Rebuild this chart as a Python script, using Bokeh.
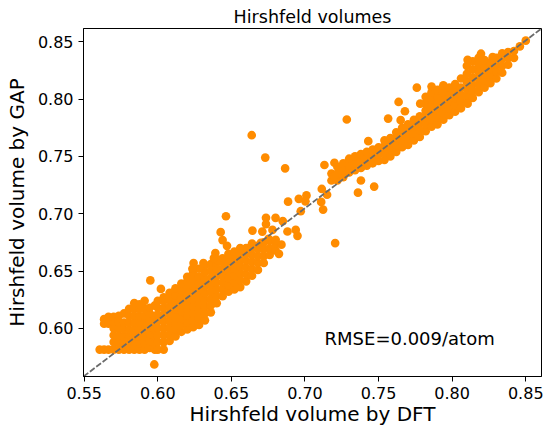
from bokeh.plotting import figure
from bokeh.models import Range1d, Label, FixedTicker, NumeralTickFormatter
from bokeh.embed import file_html
from bokeh.resources import INLINE

# ---------------- data ----------------
TITLE = "Hirshfeld volumes"
X_LABEL = "Hirshfeld volume by DFT"
Y_LABEL = "Hirshfeld volume by GAP"
RMSE_TEXT = "RMSE=0.009/atom"
X_TICKS = [0.55, 0.60, 0.65, 0.70, 0.75, 0.80, 0.85]
Y_TICKS = [0.60, 0.65, 0.70, 0.75, 0.80, 0.85]

# dense band, low end: (DFT value, GAP values read at that DFT value)
band_low = [
    (0.5605, [0.5815]),
    (0.5635, [0.5815, 0.6040, 0.6080]),
    (0.5665, [0.5815, 0.6040, 0.6100]),
    (0.5700, [0.5815, 0.5880, 0.5940, 0.6000, 0.6060, 0.6100]),
    (0.5735, [0.5815, 0.5875, 0.5935, 0.5995, 0.6055, 0.6110]),
    (0.5770, [0.5815, 0.5870, 0.5930, 0.5990, 0.6050, 0.6130]),
    (0.5805, [0.5815, 0.5870, 0.5930, 0.5990, 0.6050, 0.6110, 0.6170]),
    (0.5840, [0.5815, 0.5870, 0.5930, 0.5990, 0.6050, 0.6110, 0.6170, 0.6220]),
    (0.5875, [0.5815, 0.5870, 0.5930, 0.5990, 0.6050, 0.6110, 0.6170, 0.6210]),
    (0.5910, [0.5815, 0.5870, 0.5930, 0.5990, 0.6050, 0.6110, 0.6170, 0.6240]),
    (0.5945, [0.5830, 0.5890, 0.5950, 0.6010, 0.6070, 0.6130, 0.6180]),
    (0.5980, [0.5815, 0.5870, 0.5930, 0.5990, 0.6050, 0.6110, 0.6200]),
]

# dense band, middle part
band_mid = [
    (0.600, [0.5815, 0.588, 0.594, 0.600, 0.606, 0.612, 0.618, 0.624]),
    (0.604, [0.5815, 0.588, 0.594, 0.600, 0.606, 0.612, 0.618, 0.624, 0.627]),
    (0.608, [0.589, 0.595, 0.601, 0.607, 0.613, 0.619, 0.625, 0.631]),
    (0.612, [0.593, 0.599, 0.605, 0.611, 0.617, 0.623, 0.629, 0.635]),
    (0.616, [0.597, 0.603, 0.609, 0.615, 0.621, 0.627, 0.633, 0.639]),
    (0.620, [0.599, 0.605, 0.611, 0.617, 0.623, 0.629, 0.635, 0.641, 0.645]),
    (0.624, [0.601, 0.607, 0.613, 0.619, 0.625, 0.631, 0.637, 0.643, 0.649]),
    (0.628, [0.603, 0.609, 0.615, 0.621, 0.627, 0.633, 0.639, 0.645, 0.652]),
    (0.632, [0.607, 0.613, 0.619, 0.625, 0.631, 0.637, 0.643, 0.649, 0.655]),
    (0.636, [0.614, 0.620, 0.626, 0.632, 0.638, 0.644, 0.650, 0.656]),
    (0.640, [0.622, 0.628, 0.634, 0.640, 0.646, 0.652, 0.657]),
    (0.644, [0.628, 0.634, 0.640, 0.646, 0.652, 0.658, 0.661]),
    (0.648, [0.632, 0.638, 0.644, 0.650, 0.656, 0.662, 0.665]),
    (0.652, [0.634, 0.640, 0.646, 0.652, 0.658, 0.664, 0.667]),
    (0.656, [0.636, 0.642, 0.648, 0.654, 0.660, 0.666, 0.670]),
    (0.660, [0.641, 0.647, 0.653, 0.659, 0.665, 0.670]),
    (0.664, [0.646, 0.652, 0.658, 0.664, 0.670, 0.674]),
    (0.668, [0.651, 0.657, 0.663, 0.669, 0.672]),
    (0.672, [0.657, 0.663, 0.669, 0.675]),
    (0.676, [0.664, 0.670, 0.677]),
    (0.680, [0.668, 0.674]),
    (0.684, [0.673]),
]

# dense band, high end
band_high = [
    (0.718, [0.729, 0.735]),
    (0.722, [0.729, 0.735, 0.741]),
    (0.726, [0.732, 0.738, 0.744]),
    (0.730, [0.736, 0.742, 0.748]),
    (0.734, [0.738, 0.744, 0.750]),
    (0.738, [0.740, 0.746, 0.752]),
    (0.742, [0.742, 0.748, 0.754]),
    (0.746, [0.744, 0.750, 0.756]),
    (0.750, [0.746, 0.752, 0.758]),
    (0.754, [0.747, 0.753, 0.759, 0.764]),
    (0.758, [0.750, 0.756, 0.762, 0.766]),
    (0.762, [0.754, 0.760, 0.766, 0.771]),
    (0.766, [0.758, 0.764, 0.770, 0.775]),
    (0.770, [0.760, 0.766, 0.772, 0.778]),
    (0.774, [0.764, 0.770, 0.776, 0.782]),
    (0.778, [0.767, 0.773, 0.779, 0.785]),
    (0.782, [0.772, 0.778, 0.784, 0.790, 0.796, 0.802]),
    (0.786, [0.776, 0.782, 0.788, 0.794, 0.800, 0.806, 0.811]),
    (0.790, [0.778, 0.784, 0.790, 0.796, 0.802, 0.808]),
    (0.794, [0.782, 0.788, 0.794, 0.800, 0.806, 0.812]),
    (0.798, [0.786, 0.792, 0.798, 0.804, 0.810]),
    (0.802, [0.789, 0.795, 0.801, 0.807, 0.813]),
    (0.806, [0.792, 0.798, 0.804, 0.810, 0.818]),
    (0.810, [0.797, 0.803, 0.809, 0.815, 0.822, 0.829]),
    (0.814, [0.801, 0.807, 0.813, 0.819, 0.826, 0.833]),
    (0.818, [0.806, 0.812, 0.818, 0.824, 0.830, 0.836]),
    (0.822, [0.810, 0.816, 0.822, 0.828, 0.834]),
    (0.826, [0.814, 0.820, 0.826, 0.832]),
    (0.830, [0.818, 0.824, 0.830, 0.836]),
    (0.834, [0.823, 0.829, 0.835, 0.840]),
    (0.838, [0.830, 0.836, 0.841]),
    (0.842, [0.836, 0.842]),
    (0.846, [0.846]),
    (0.850, [0.851]),
]

# scattered points away from the dense band
outlier_dft = [0.5976, 0.5949, 0.6021, 0.6243, 0.6235, 0.6310, 0.6391, 0.6402, 0.6381,
               0.6427, 0.6440, 0.6470, 0.6463, 0.6638, 0.6730, 0.6865, 0.6643, 0.6710,
               0.6779, 0.6752, 0.6801, 0.6700, 0.6735, 0.6735, 0.6800, 0.6849, 0.6881,
               0.6937, 0.6949, 0.6823, 0.6885, 0.6958, 0.7003, 0.7010, 0.6971, 0.7110,
               0.7123, 0.7114, 0.7150, 0.7132, 0.7200, 0.7200, 0.7205, 0.7284, 0.7380,
               0.7360, 0.7470, 0.7430, 0.7565, 0.7636, 0.7679, 0.7650, 0.7760, 0.7783,
               0.8105, 0.8105, 0.8196, 0.8275]
outlier_gap = [0.5685, 0.6418, 0.6344, 0.6570, 0.6520, 0.6570, 0.6657, 0.6598, 0.6613,
               0.6839, 0.6770, 0.6720, 0.6978, 0.7685, 0.7490, 0.7396, 0.6853, 0.6844,
               0.6859, 0.6780, 0.6772, 0.6747, 0.6964, 0.6910, 0.6964, 0.6935, 0.6845,
               0.6859, 0.6807, 0.6650, 0.7105, 0.7130, 0.7108, 0.7160, 0.7022, 0.7103,
               0.7036, 0.7216, 0.7166, 0.7425, 0.7445, 0.7326, 0.6744, 0.7822, 0.7290,
               0.7184, 0.7237, 0.7633, 0.7830, 0.7975, 0.7894, 0.7816, 0.8100, 0.7960,
               0.7960, 0.8343, 0.8396, 0.8366]

# ---------------- assemble ----------------
dft, gap = [], []
for band in (band_low, band_mid, band_high):
    for xv, ys in band:
        for yv in ys:
            dft.append(xv)
            gap.append(yv)
dft += outlier_dft
gap += outlier_gap

X_LO, X_HI = 0.5495, 0.8607
Y_LO, Y_HI = 0.5580, 0.8616
FONT = "DejaVu Sans"

p = figure(width=548, height=428, output_backend="svg", toolbar_location=None,
           x_range=Range1d(X_LO, X_HI), y_range=Range1d(Y_LO, Y_HI),
           min_border_left=83, min_border_right=7, min_border_top=28,
           min_border_bottom=52, title=TITLE)

p.title.text_font = FONT
p.title.text_font_size = "17.5px"
p.title.text_font_style = "normal"
p.title.align = "center"
p.title.text_color = "black"
p.title.standoff = 4

p.grid.visible = False
p.outline_line_color = "black"
p.outline_line_width = 1
p.outline_line_alpha = 1.0
p.background_fill_color = "white"
p.border_fill_color = "white"

p.xaxis.ticker = FixedTicker(ticks=X_TICKS)
p.yaxis.ticker = FixedTicker(ticks=Y_TICKS)
p.xaxis.axis_label = X_LABEL
p.yaxis.axis_label = Y_LABEL
for ax in (p.xaxis, p.yaxis):
    ax.formatter = NumeralTickFormatter(format="0.00")
    ax.major_label_text_font = FONT
    ax.major_label_text_font_size = "16px"
    ax.major_label_text_color = "black"
    ax.axis_label_text_font = FONT
    ax.axis_label_text_font_size = "20px"
    ax.axis_label_text_font_style = "normal"
    ax.axis_label_text_color = "black"
    ax.major_tick_in = 0
    ax.major_tick_out = 5
    ax.minor_tick_in = 0
    ax.minor_tick_out = 0
    ax.axis_line_color = "black"
    ax.major_tick_line_color = "black"
p.xaxis.major_label_standoff = 5
p.xaxis.axis_label_standoff = 0
p.yaxis.major_label_standoff = 5
p.yaxis.axis_label_standoff = 6

p.scatter(dft, gap, marker="circle", size=8.7, fill_color="#ff8c00",
          line_color=None)

p.line([X_LO, X_HI], [Y_LO, Y_HI], line_color="#6b6b6b", line_width=1.8,
       line_dash="6 2")

p.add_layout(Label(x=0.7133, y=0.5912, text=RMSE_TEXT, text_font=FONT,
                   text_font_size="18px", text_color="black",
                   text_baseline="alphabetic", text_align="left"))

open("out.html", "w").write(file_html(p, INLINE))
